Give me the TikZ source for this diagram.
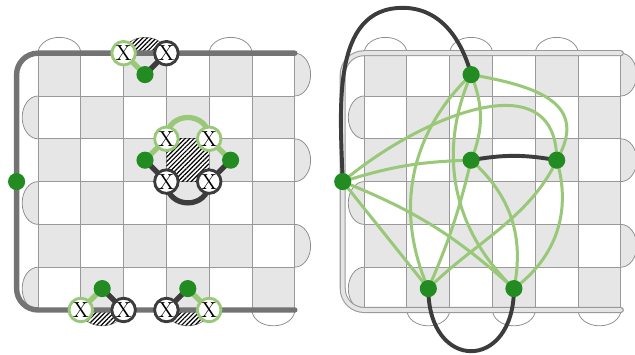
\documentclass[tikz,border=0pt]{standalone}
\usepackage{amsmath}
\usepackage{tikz}
\usetikzlibrary{patterns.meta}

\definecolor{lgreen}{HTML}{98C878}
\definecolor{dgreen}{HTML}{228B22}
\definecolor{dgray}{HTML}{3C3C3C}
\definecolor{cellgray}{HTML}{E6E6E6}

\pgfdeclarelayer{board}
\pgfdeclarelayer{links}
\pgfsetlayers{board,links,main}

\tikzset{
	bumpline/.style={draw=black!45, line width=0.5pt},
	hatch/.style={pattern={Lines[angle=45,distance=2.1pt,line width=0.8pt]}},
	xlight/.style={circle, draw=lgreen, fill=white, line width=1.9pt, minimum size=0.55cm, inner sep=0pt, font=\fontsize{14.5}{14.5}\selectfont},
	xdark/.style={xlight, draw=dgray},
	dot/.style={circle, fill=dgreen, minimum size=0.4cm, inner sep=0pt},
	gline/.style={lgreen, line width=3.5pt, line join=round},
	kline/.style={dgray, line width=3.5pt, line join=round},
	gedge/.style={lgreen, line width=2pt},
	kedge/.style={dgray, line width=2.6pt},
}

\newcommand{\checkboard}{
	\foreach \i in {0,2,4} {
		\draw[bumpline, fill=white] (\i,6) arc[start angle=180, end angle=0, x radius=0.5, y radius=0.37];
		\draw[bumpline, fill=white] (\i+1,0) arc[start angle=180, end angle=360, x radius=0.5, y radius=0.37];
		\draw[bumpline, fill=cellgray] (0,\i+1) arc[start angle=90, end angle=270, x radius=0.37, y radius=0.5];
		\draw[bumpline, fill=cellgray] (6,\i+1) arc[start angle=-90, end angle=90, x radius=0.37, y radius=0.5];
	}
	\fill[white] (0,0) rectangle (6,6);
	\foreach \i in {0,...,5}
		\foreach \j in {0,...,5} {\ifodd\numexpr\i+\j\relax \fill[cellgray] (\i,\j) rectangle ++(1,1);\fi}
	\draw[black!40, line width=0.6pt] (0,0) grid (6,6);
}

\begin{document}
\begin{tikzpicture}
	%\draw[help lines] (-1,-1) grid (14,7);
	\useasboundingbox (-0.888,-1.051) rectangle (13.949,7.243);
	% left board
	\node[xlight] (lt1) at (2,6) {X};
	\node[xdark] (dt1) at (3,6) {X};
	\node[dot] (g1) at (2.5,5.5) {};
	\node[xlight] (lm1) at (3,4) {X};
	\node[xlight] (lm2) at (4,4) {X};
	\node[xdark] (dm1) at (3,3) {X};
	\node[xdark] (dm2) at (4,3) {X};
	\node[dot] (g2) at (2.5,3.5) {};
	\node[dot] (g3) at (4.5,3.5) {};
	\node[xlight] (lb1) at (1,0) {X};
	\node[xdark] (db1) at (2,0) {X};
	\node[dot] (g4) at (1.5,0.5) {};
	\node[xdark] (db2) at (3,0) {X};
	\node[xlight] (lb2) at (4,0) {X};
	\node[dot] (g5) at (3.5,0.5) {};
	\node[dot] (g0) at (-0.5,3) {};
	\begin{pgfonlayer}{board}
		\checkboard
		\fill[hatch] (2,6) arc[start angle=180, end angle=0, x radius=0.5, y radius=0.37];
		\fill[hatch] (1,0) arc[start angle=180, end angle=360, x radius=0.5, y radius=0.37];
		\fill[hatch] (3,0) arc[start angle=180, end angle=360, x radius=0.5, y radius=0.37];
		\fill[hatch] (3,3) rectangle (4,4);
		\draw[line width=3.6pt, black!55, line cap=round, rounded corners=0.5cm] (6,6) -- (-0.5,6) -- (-0.5,0) -- (6,0);
	\end{pgfonlayer}
	\begin{pgfonlayer}{links}
		\draw[gline] (g1.center) -- (lt1.center);
		\draw[kline] (g1.center) -- (dt1.center);
		\draw[gline] (g2.center) -- (lm1.center) to[out=90, in=90, looseness=1.7] (lm2.center) -- (g3.center);
		\draw[kline] (g2.center) -- (dm1.center) to[out=-90, in=-90, looseness=1.7] (dm2.center) -- (g3.center);
		\draw[gline] (g4.center) -- (lb1.center);
		\draw[kline] (g4.center) -- (db1.center);
		\draw[kline] (g5.center) -- (db2.center);
		\draw[gline] (g5.center) -- (lb2.center);
	\end{pgfonlayer}
	% right board
	\begin{scope}[xshift=7.62cm]
		\node[dot] (ra) at (2.5,5.5) {};
		\node[dot] (rb) at (2.5,3.5) {};
		\node[dot] (rc) at (4.5,3.5) {};
		\node[dot] (rd) at (-0.5,3) {};
		\node[dot] (re) at (1.5,0.5) {};
		\node[dot] (rf) at (3.5,0.5) {};
		\begin{pgfonlayer}{board}
			\checkboard
			\draw[draw=black!40, line width=0.7pt, double=black!10, double distance=2.6pt, line cap=round, rounded corners=0.5cm] (6,6) -- (-0.5,6) -- (-0.5,0) -- (6,0);
		\end{pgfonlayer}
		\begin{pgfonlayer}{links}
			\draw[gedge] (ra.center) to[out=-10, in=60, looseness=1.4] (rc.center);
			\draw[gedge] (ra.center) to[bend left=22] (rb.center);
			\draw[gedge] (ra.center) to[bend right=35] (re.center);
			\draw[gedge] (ra.center) to[bend right=35] (rf.center);
			\draw[gedge] (rd.center) to[bend left=8] (rb.center);
			\draw[gedge] (rd.center) to[out=40, in=90, looseness=1.2] (rc.center);
			\draw[gedge] (rc.center) to[out=-115, in=45, looseness=0.9] (re.center);
			\draw[gedge] (rc.center) to[bend left=35] (rf.center);
			\draw[gedge] (rb.center) to[bend left=30] (rf.center);
			\draw[gedge] (rb.center) to[bend left=5] (re.center);
			\draw[gedge] (rd.center) -- (re.center);
			\draw[gedge] (rd.center) to[bend left=10] (rf.center);
			\draw[kedge] (rd.center) to[out=92, in=180] (0.9,7.06) to[out=0, in=105] (ra.center);
			\draw[kedge] (rb.center) to[bend left=10] (rc.center);
			\draw[kedge] (re.center) to[out=-90, in=-90, looseness=2.5] (rf.center);
		\end{pgfonlayer}
	\end{scope}
\end{tikzpicture}
\end{document}
